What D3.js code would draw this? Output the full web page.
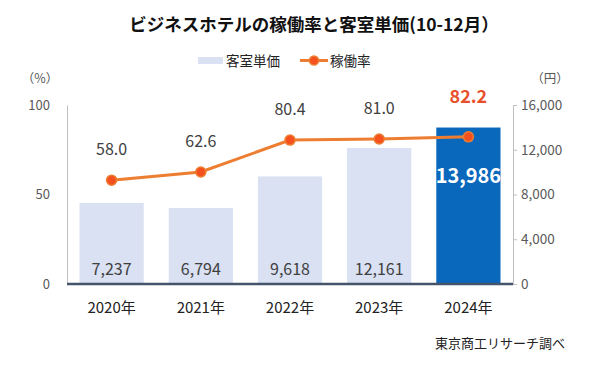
<!DOCTYPE html>
<html><head><meta charset="utf-8">
<script src="https://cdn.jsdelivr.net/npm/d3@7"></script>
<style>
html,body{margin:0;padding:0;background:#fff;}
text{font-family:"Noto Sans CJK JP","Noto Sans",sans-serif;}
</style></head>
<body><svg id="c" width="598" height="365"></svg>
<script>
const years = ["2020年","2021年","2022年","2023年","2024年"];
const roomPrice = [7237, 6794, 9618, 12161, 13986];
const occupancy = [58.0, 62.6, 80.4, 81.0, 82.2];
const leftTicks = [0, 50, 100];
const rightTicks = [0, 4000, 8000, 12000, 16000];
const title = "ビジネスホテルの稼働率と客室単価(10-12月）";
const legendLabels = ["客室単価", "稼働率"];
const source = "東京商工リサーチ調べ";

const svg = d3.select("#c");
const m = {l:67, r:513, t:105, b:284};
const x = d3.scaleBand().domain(years).range([m.l, m.r]).paddingInner(0.28).paddingOuter(0.14);
const yL = d3.scaleLinear().domain([0,100]).range([m.b, m.t]);
const yR = d3.scaleLinear().domain([0,16000]).range([m.b, m.t]);
const last = years.length - 1;
const fmt = d3.format(",");

svg.append("text").attr("x", 314).attr("y", 31).attr("text-anchor","middle")
  .attr("font-size", 17.5).attr("font-weight","bold").attr("fill","#111").text(title);

// legend
const lg = svg.append("g");
lg.append("rect").attr("x",198).attr("y",57).attr("width",25).attr("height",7).attr("fill","#D9E1F2");
lg.append("text").attr("x",226).attr("y",65.5).attr("font-size",13.5).attr("fill","#222").text(legendLabels[0]);
lg.append("line").attr("x1",300).attr("x2",328).attr("y1",60.5).attr("y2",60.5).attr("stroke","#ED7D31").attr("stroke-width",3);
lg.append("circle").attr("cx",314).attr("cy",60.5).attr("r",4.5).attr("fill","#F4511E").attr("stroke","#ED7D31").attr("stroke-width",1.5);
lg.append("text").attr("x",330).attr("y",65.5).attr("font-size",13.5).attr("fill","#222").text(legendLabels[1]);

// unit labels
svg.append("text").attr("x",40).attr("y",83).attr("text-anchor","middle").attr("font-size",12.5).attr("fill","#595959").text("（%）");
svg.append("text").attr("x",550).attr("y",83).attr("text-anchor","middle").attr("font-size",12.5).attr("fill","#595959").text("（円）");

// left axis
const axL = svg.append("g").attr("transform",`translate(${m.l},0)`)
  .call(d3.axisLeft(yL).tickValues(leftTicks).tickSize(0).tickPadding(17));
axL.select(".domain").attr("stroke","#BFBFBF");
axL.selectAll("text").attr("font-size",13).attr("fill","#595959").style("font-family","'Noto Sans CJK JP'");

// right axis
const axR = svg.append("g").attr("transform",`translate(${m.r},0)`)
  .call(d3.axisRight(yR).tickValues(rightTicks).tickSize(4).tickPadding(4).tickFormat(fmt));
axR.select(".domain").attr("stroke","#BFBFBF");
axR.selectAll("line").attr("stroke","#BFBFBF");
axR.selectAll("text").attr("font-size",13.5).attr("fill","#595959").style("font-family","'Noto Sans CJK JP'");

// bars
svg.append("g").selectAll("rect").data(roomPrice).join("rect")
  .attr("x",(d,i)=>x(years[i])).attr("width",x.bandwidth())
  .attr("y",d=>yR(d)).attr("height",d=>m.b-yR(d))
  .attr("fill",(d,i)=> i===last ? "#0A68BC" : "#D9E1F2");

// bar labels
svg.append("g").selectAll("text").data(roomPrice).join("text")
  .attr("x",(d,i)=>x(years[i])+x.bandwidth()/2)
  .attr("y",(d,i)=> i===last ? yR(d)+55 : m.b-9)
  .attr("text-anchor","middle")
  .attr("font-size",(d,i)=> i===last ? 20 : 16)
  .attr("font-weight",(d,i)=> i===last ? "bold" : "normal")
  .attr("fill",(d,i)=> i===last ? "#fff" : "#404040")
  .text(d=>fmt(d));

// baseline
svg.append("line").attr("x1",m.l).attr("x2",m.r).attr("y1",m.b).attr("y2",m.b)
  .attr("stroke","#44546A").attr("stroke-width",2.5);

// line
const cx = (d,i)=>x(years[i])+x.bandwidth()/2;
svg.append("path").datum(occupancy)
  .attr("d", d3.line().x(cx).y(d=>yL(d)))
  .attr("fill","none").attr("stroke","#ED7D31").attr("stroke-width",3);
svg.append("g").selectAll("circle").data(occupancy).join("circle")
  .attr("cx",cx).attr("cy",d=>yL(d)).attr("r",5)
  .attr("fill","#F4511E").attr("stroke","#ED7D31").attr("stroke-width",1.5);

// line labels
svg.append("g").selectAll("text").data(occupancy).join("text")
  .attr("x",cx)
  .attr("y",(d,i)=> i===last ? yL(d)-34 : yL(d)-25)
  .attr("text-anchor","middle")
  .attr("font-size",(d,i)=> i===last ? 18 : 16)
  .attr("font-weight",(d,i)=> i===last ? "bold" : "normal")
  .attr("fill",(d,i)=> i===last ? "#E8502A" : "#404040")
  .text(d=>d.toFixed(1));

// x labels
svg.append("g").selectAll("text").data(years).join("text")
  .attr("x",d=>x(d)+x.bandwidth()/2).attr("y",313)
  .attr("text-anchor","middle").attr("font-size",15).attr("fill","#222").text(d=>d);

svg.append("text").attr("x",565).attr("y",348).attr("text-anchor","end")
  .attr("font-size",13).attr("fill","#222").text(source);
</script></body></html>
